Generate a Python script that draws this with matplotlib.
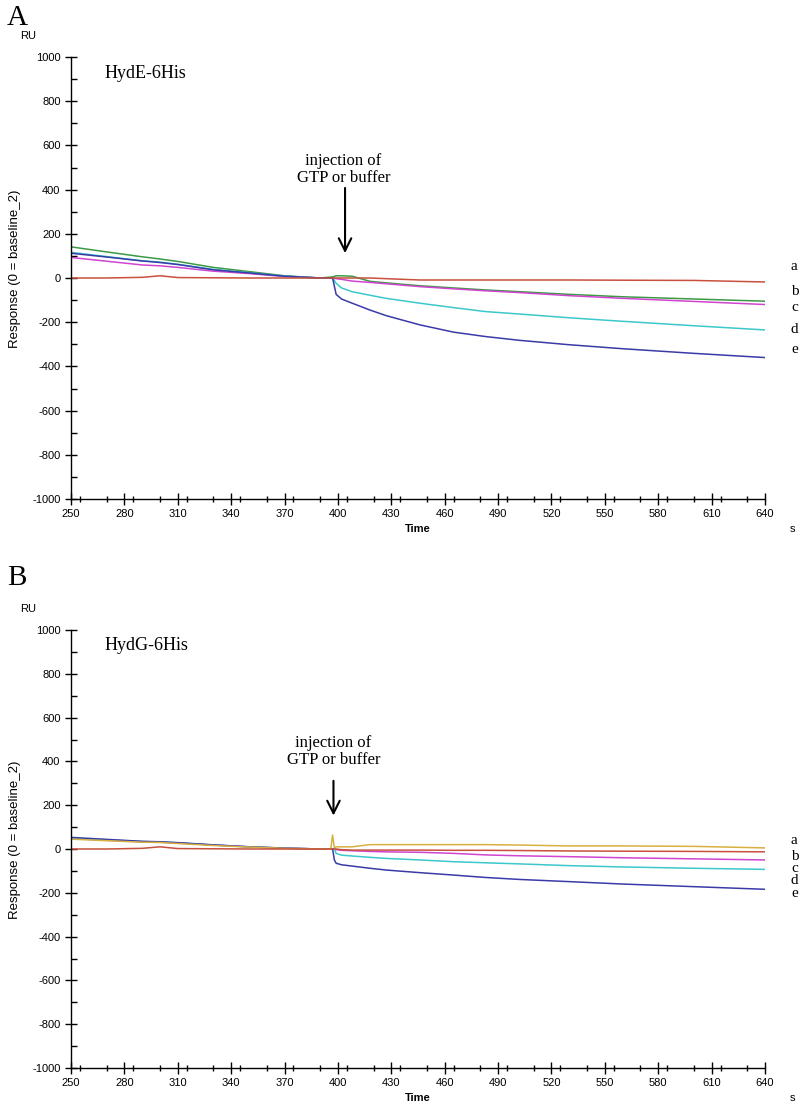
import matplotlib
matplotlib.use("Agg")
import matplotlib.pyplot as plt
from matplotlib.ticker import MultipleLocator

plt.rcParams["axes.unicode_minus"] = False

# ---------------- data ----------------
time_A = [250, 270, 290, 300, 310, 330, 350, 370, 390, 397, 399, 402, 408, 418,
          427, 446, 465, 483, 502, 530, 560, 600, 640]
A_a = [0, 0, 3, 10, 2, 1, 0, 0, 0, 0, 0, 0, 0, 0, -3, -9, -9, -9, -9, -9, -10, -11, -18]
A_b = [141, 118, 96, 86, 75, 48, 29, 10, 0, 5, 10, 10, 8, -15, -22, -35, -45, -54,
       -62, -74, -85, -95, -105]
A_c = [93, 76, 59, 55, 48, 31, 20, 7, 0, 0, -3, -6, -14, -20, -26, -39, -49, -58,
       -66, -80, -92, -106, -120]
A_d = [116, 97, 78, 72, 62, 39, 24, 9, 0, 0, -24, -45, -62, -78, -92, -114, -134,
       -152, -163, -180, -196, -216, -235]
A_e = [112, 95, 77, 70, 61, 37, 23, 8, 0, 0, -74, -95, -114, -145, -170, -212, -245,
       -265, -282, -302, -320, -341, -360]

time_B = [250, 270, 290, 300, 310, 330, 350, 370, 390, 396, 397, 398, 399, 402, 408,
          418, 427, 446, 465, 483, 502, 530, 560, 600, 640]
B_a = [45, 38, 31, 30, 25, 16, 9, 3, 0, 0, 64, 5, 10, 10, 10, 20, 20, 20, 20, 20,
       18, 14, 14, 12, 5]
B_b = [0, 0, 3, 10, 2, 1, 0, 0, 0, 0, 0, 0, 0, -3, -5, -5, -5, -5, -6, -6, -7, -9,
       -10, -11, -13]
B_c = [48, 40, 33, 31, 27, 18, 10, 4, 0, 0, 0, 0, -3, -6, -8, -11, -13, -15, -20,
       -27, -31, -35, -40, -45, -50]
B_d = [50, 42, 34, 32, 28, 18, 10, 4, 0, 0, 0, 0, -20, -28, -32, -38, -43, -50, -58,
       -63, -68, -76, -82, -88, -93]
B_e = [53, 44, 35, 33, 29, 19, 10, 4, 0, 0, 0, -50, -65, -72, -78, -88, -96, -108,
       -119, -130, -139, -149, -160, -172, -184]

curve_labels = ["a", "b", "c", "d", "e"]
label_y_A = [50, -63, -135, -235, -325]
label_y_B = [41, -32, -87, -142, -201]
x_ticks = list(range(250, 641, 30))
y_ticks = list(range(-1000, 1001, 200))

# ---------------- styling ----------------
SANS = ["Liberation Sans", "DejaVu Sans"]
SERIF = ["Liberation Serif", "DejaVu Serif"]
RED = "#c8503c"
GREEN = "#3c9a46"
MAGENTA = "#d044d0"
CYAN = "#3cc8cc"
BLUE = "#3a3aa8"
YELLOW = "#d8b040"

fig = plt.figure(figsize=(8.05, 11.15), dpi=100)
axA = fig.add_axes([71/805, 1-499/1115, 694/805, 442/1115])
axB = fig.add_axes([71/805, 1-1068/1115, 694/805, 438/1115])


def style_axis(ax):
    ax.set_xlim(250, 640)
    ax.set_ylim(-1000, 1000)
    for s in ["top", "right"]:
        ax.spines[s].set_visible(False)
    for s in ["left", "bottom"]:
        ax.spines[s].set_linewidth(1.0)
    ax.set_xticks(x_ticks)
    ax.set_yticks(y_ticks)
    ax.xaxis.set_minor_locator(MultipleLocator(15))
    ax.yaxis.set_minor_locator(MultipleLocator(100))
    ax.tick_params(axis="both", which="major", direction="inout", length=8,
                   width=1, labelsize=8)
    ax.tick_params(axis="x", which="minor", direction="inout", length=5, width=1)
    ax.tick_params(axis="y", which="minor", direction="in", length=4, width=1)
    for lab in ax.get_xticklabels() + ax.get_yticklabels():
        lab.set_fontfamily(SANS)
    ax.set_xlabel("Time", fontsize=8, fontweight="bold", family=SANS, labelpad=3)
    ax.set_ylabel("Response (0 = baseline_2)", fontsize=9.5, family=SANS)
    ax.yaxis.set_label_coords(-0.072, 0.52)
    ax.text(-0.062, 1.048, "RU", transform=ax.transAxes, fontsize=8, family=SANS,
            ha="center", va="center")
    ax.text(1.04, -0.068, "s", transform=ax.transAxes, fontsize=8, family=SANS,
            ha="center", va="center")


style_axis(axA)
style_axis(axB)

lw = 1.1
axA.plot(time_A, A_b, color=GREEN, lw=lw)
axA.plot(time_A, A_c, color=MAGENTA, lw=lw)
axA.plot(time_A, A_d, color=CYAN, lw=lw)
axA.plot(time_A, A_e, color=BLUE, lw=lw)
axA.plot(time_A, A_a, color=RED, lw=lw)

axB.plot(time_B, B_c, color=MAGENTA, lw=lw)
axB.plot(time_B, B_d, color=CYAN, lw=lw)
axB.plot(time_B, B_e, color=BLUE, lw=lw)
axB.plot(time_B, B_a, color=YELLOW, lw=lw)
axB.plot(time_B, B_b, color=RED, lw=lw)

for lab, y in zip(curve_labels, label_y_A):
    axA.text(656.5, y, lab, fontsize=11, family=SERIF, ha="center", va="center",
             clip_on=False)
for lab, y in zip(curve_labels, label_y_B):
    axB.text(656.5, y, lab, fontsize=11, family=SERIF, ha="center", va="center",
             clip_on=False)

axA.text(269, 925, "HydE-6His", fontsize=13, family=SERIF, ha="left", va="center")
axB.text(269, 931, "HydG-6His", fontsize=13, family=SERIF, ha="left", va="center")

axA.text(403, 492, "injection of\nGTP or buffer", fontsize=12, family=SERIF,
         ha="center", va="center", linespacing=1.1)
axB.text(397.5, 445, "injection of\nGTP or buffer", fontsize=12, family=SERIF,
         ha="center", va="center", linespacing=1.1)

arrow_kw = dict(arrowstyle="->,head_length=0.9,head_width=0.45", color="black", lw=1.5)
axA.annotate("", xy=(404, 100), xytext=(404, 420), arrowprops=arrow_kw)
axB.annotate("", xy=(397.5, 140), xytext=(397.5, 324), arrowprops=arrow_kw)

fig.text(17/805, 1-18/1115, "A", fontsize=21, family=SERIF, ha="center", va="center")
fig.text(17/805, 1-578/1115, "B", fontsize=21, family=SERIF, ha="center", va="center")

fig.savefig("out.png", dpi=100)
